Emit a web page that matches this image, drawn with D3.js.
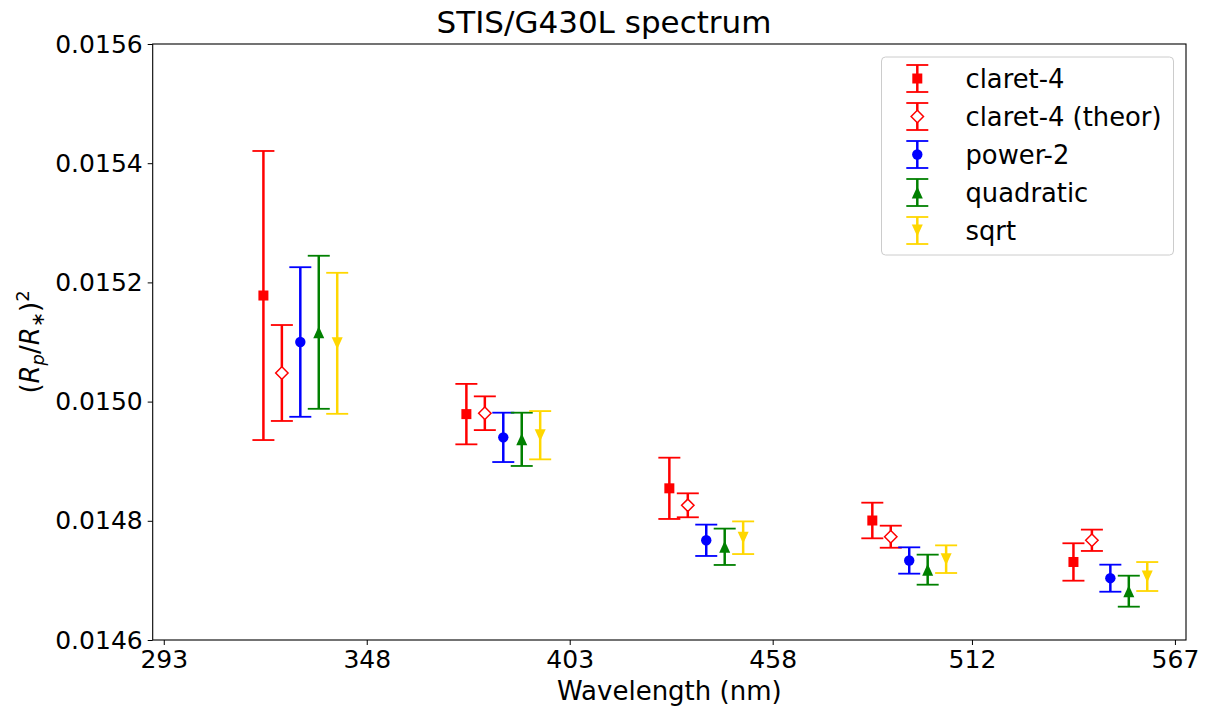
<!DOCTYPE html>
<html>
<head>
<meta charset="utf-8">
<script src="https://cdn.jsdelivr.net/npm/d3@7"></script>
<style>
  body { margin: 0; background: #fff; }
  svg { display: block; font-family: "DejaVu Sans", sans-serif; }
</style>
</head>
<body>
<svg width="1206" height="709"></svg>
<script>
// bin centres (nm) and per-series shift so the bars sit side by side
const binCenters = [320, 375, 430, 485, 539.5];
const seriesNames = ['claret-4', 'claret-4 (theor)', 'power-2', 'quadratic', 'sqrt'];
const seriesColors = ['#ff0000', '#ff0000', '#0000ff', '#008000', '#ffd700'];
const seriesMarkers = ['square', 'diamond', 'circle', 'triUp', 'triDown'];
const seriesShift = [0, 5, 10, 15, 20];

const claret4      = [0.015178, 0.014979, 0.0148545, 0.0148005, 0.0147309];
const claret4Err   = [0.0002425, 0.0000507, 0.0000514, 0.0000299, 0.0000314];
const claret4T     = [0.015048, 0.0149805, 0.014826, 0.0147733, 0.0147673];
const claret4TErr  = [0.0000805, 0.0000283, 0.0000201, 0.0000185, 0.0000179];
const power2       = [0.015100, 0.014940, 0.0147673, 0.0147334, 0.0147037];
const power2Err    = [0.0001255, 0.0000414, 0.0000263, 0.0000221, 0.0000227];
const quadratic    = [0.0151163, 0.0149367, 0.0147564, 0.014718, 0.0146819];
const quadraticErr = [0.0001284, 0.0000447, 0.0000305, 0.0000252, 0.000026];
const sqrtLaw      = [0.0150978, 0.0149436, 0.0147716, 0.0147356, 0.0147065];
const sqrtLawErr   = [0.0001183, 0.0000405, 0.0000274, 0.0000232, 0.0000243];

const xTicks = [293, 348, 403, 458, 512, 567];
const yTicks = [0.0146, 0.0148, 0.0150, 0.0152, 0.0154, 0.0156];

(function (d3) {
    'use strict';

    const values = [claret4, claret4T, power2, quadratic, sqrtLaw];
    const errors = [claret4Err, claret4TErr, power2Err, quadraticErr, sqrtLawErr];

    const svg = d3.select('svg');
    const pLeft = 152.7, pRight = 1186, pTop = 44, pBottom = 640;

    const x = d3.scaleLinear().domain([290, 570]).range([pLeft, pRight]);
    const y = d3.scaleLinear().domain([0.0146, 0.0156]).range([pBottom, pTop]);

    // axes
    svg.append('g')
        .attr('transform', `translate(0,${pBottom})`)
        .call(d3.axisBottom(x).tickValues(xTicks).tickFormat(d3.format('d')).tickSizeOuter(0).tickSize(5).tickPadding(5))
        .call(g => g.select('.domain').remove());
    svg.append('g')
        .attr('transform', `translate(${pLeft},0)`)
        .call(d3.axisLeft(y).tickValues(yTicks).tickFormat(d3.format('.4f')).tickSizeOuter(0).tickSize(5).tickPadding(5))
        .call(g => g.select('.domain').remove());
    svg.selectAll('.tick text').attr('font-size', 25).attr('fill', '#000').attr('font-family', 'DejaVu Sans');
    svg.selectAll('.tick line').attr('stroke', '#000').attr('stroke-width', 1);

    svg.append('rect')
        .attr('x', pLeft).attr('y', pTop)
        .attr('width', pRight - pLeft).attr('height', pBottom - pTop)
        .attr('fill', 'none').attr('stroke', '#000').attr('stroke-width', 1.1);

    // marker shapes
    function marker(g, type, color, cx, cy) {
        if (type === 'square') {
            g.append('rect').attr('x', cx - 5).attr('y', cy - 5).attr('width', 10).attr('height', 10).attr('fill', color);
        } else if (type === 'diamond') {
            g.append('path').attr('d', `M${cx},${cy - 6.2}L${cx + 6.2},${cy}L${cx},${cy + 6.2}L${cx - 6.2},${cy}Z`)
                .attr('fill', '#fff').attr('stroke', color).attr('stroke-width', 1.5);
        } else if (type === 'circle') {
            g.append('circle').attr('cx', cx).attr('cy', cy).attr('r', 5.2).attr('fill', color);
        } else if (type === 'triUp') {
            g.append('path').attr('d', `M${cx},${cy - 6}L${cx + 5.5},${cy + 6}L${cx - 5.5},${cy + 6}Z`).attr('fill', color);
        } else {
            g.append('path').attr('d', `M${cx},${cy + 6}L${cx + 5.5},${cy - 6}L${cx - 5.5},${cy - 6}Z`).attr('fill', color);
        }
    }

    function errbar(g, color, cx, y0, y1) {
        g.append('line').attr('x1', cx).attr('x2', cx).attr('y1', y0).attr('y2', y1)
            .attr('stroke', color).attr('stroke-width', 2.5);
        [y0, y1].forEach(yy => {
            g.append('line').attr('x1', cx - 11).attr('x2', cx + 11).attr('y1', yy).attr('y2', yy)
                .attr('stroke', color).attr('stroke-width', 1.8);
        });
    }

    const plot = svg.append('g');
    values.forEach((vals, s) => {
        const g = plot.append('g');
        vals.forEach((v, i) => {
            const cx = x(binCenters[i] + seriesShift[s]);
            errbar(g, seriesColors[s], cx, y(v + errors[s][i]), y(v - errors[s][i]));
            marker(g, seriesMarkers[s], seriesColors[s], cx, y(v));
        });
    });

    // legend
    const leg = svg.append('g');
    leg.append('rect').attr('x', 881.5).attr('y', 57).attr('width', 292).attr('height', 198)
        .attr('rx', 4).attr('fill', '#fff').attr('stroke', '#ccc').attr('stroke-width', 1);
    seriesNames.forEach((name, s) => {
        const cy = 78.5 + s * 38;
        errbar(leg, seriesColors[s], 917.3, cy - 13.5, cy + 13.5);
        marker(leg, seriesMarkers[s], seriesColors[s], 917.3, cy);
        leg.append('text').attr('x', 965.5).attr('y', cy + 9).attr('font-size', 25.8).text(name);
    });

    // labels
    svg.append('text').attr('x', 604).attr('y', 33).attr('text-anchor', 'middle')
        .attr('font-size', 31).text('STIS/G430L spectrum');
    svg.append('text').attr('x', (pLeft + pRight) / 2).attr('y', 700).attr('text-anchor', 'middle')
        .attr('font-size', 26).text('Wavelength (nm)');

    const yl = svg.append('text').attr('text-anchor', 'middle').attr('font-size', 26)
        .attr('transform', `translate(39,${(pTop + pBottom) / 2}) rotate(-90)`);
    yl.append('tspan').text('(');
    yl.append('tspan').attr('font-style', 'italic').text('R');
    yl.append('tspan').attr('font-style', 'italic').attr('font-size', 18).attr('dy', 5).text('p');
    yl.append('tspan').attr('dy', -5).text('/');
    yl.append('tspan').attr('font-style', 'italic').text('R');
    yl.append('tspan').attr('font-size', 18).attr('dy', 5).text('∗');
    yl.append('tspan').attr('dy', -5).text(')');
    yl.append('tspan').attr('font-size', 18).attr('dy', -10).text('2');
}(d3));
</script>
</body>
</html>
